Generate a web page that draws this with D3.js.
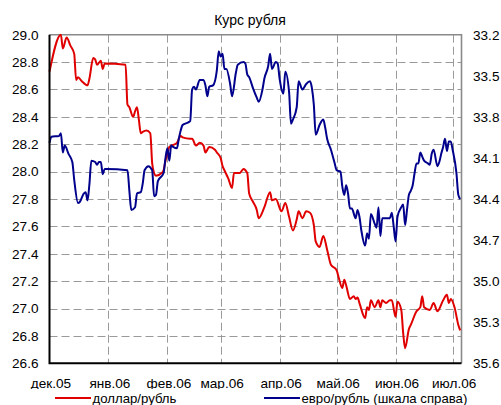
<!DOCTYPE html>
<html><head><meta charset="utf-8">
<script src="https://cdn.jsdelivr.net/npm/d3@7"></script>
<style>body{margin:0;background:#fff} svg{display:block}</style>
</head><body><svg id="c" width="501" height="405"></svg>
<script>
// ---- data ----
const startDate = new Date(2005, 11, 1);
const usdDays = [0,6,7,9,11,13,14,15,17,20,21,23,24,25,27,28,29,40,41,42,44,45,46,47,48,49,51,53,54,55,56,59,60,61,62,63,67,69,70,74,75,77,79,81,82,84,87,88,90,91,92,94,96,97,100,102,104,105,107,109,110,113,116,117,119,122,124,126,128,130,131,133,135,137,139,140,142,144,146,148,151,152,154,155,156,158,160,161,162,163,166,167,168,169,171,173,174,175,177,179,180,182,183,185,186,187,189,190,193,195,196,197,200,202,204,207,209,210,211,213,215,216];
const usdValues = [28.73,29.00,28.90,28.98,28.92,28.86,28.67,28.69,28.66,28.63,28.68,28.83,28.82,28.78,28.81,28.75,28.79,28.78,28.49,28.47,28.40,28.44,28.47,28.38,28.28,28.29,28.30,28.28,28.06,27.99,27.97,27.99,28.01,28.08,28.13,28.18,28.21,28.26,28.25,28.24,28.24,28.19,28.21,28.19,28.14,28.18,28.16,28.14,28.10,28.04,28.01,27.95,27.88,27.99,27.99,28.02,27.99,27.84,27.78,27.72,27.66,27.74,27.85,27.79,27.80,27.71,27.77,27.67,27.57,27.65,27.71,27.66,27.71,27.70,27.61,27.49,27.45,27.53,27.43,27.32,27.28,27.23,27.15,27.21,27.17,27.07,27.09,27.07,27.08,27.04,26.93,27.01,26.99,27.06,27.01,27.06,27.01,27.06,27.04,27.06,27.06,26.94,27.05,26.99,26.82,26.71,26.85,26.88,26.98,27.01,27.09,27.01,26.99,27.04,26.98,27.06,27.10,27.04,27.07,27.01,26.88,26.84];
const eurDays = [0,1,5,6,7,8,10,12,13,15,16,18,19,20,21,22,24,25,26,27,28,29,30,41,42,43,45,46,48,49,50,52,54,55,56,57,60,61,62,63,64,65,67,68,69,70,73,74,75,76,77,79,81,82,83,84,86,88,89,90,91,92,93,95,96,98,99,102,103,104,105,107,109,110,112,113,115,116,117,119,120,121,123,124,126,127,128,130,131,133,135,137,138,139,140,142,144,145,146,148,150,151,153,154,155,156,157,158,159,161,162,163,164,166,167,168,169,171,172,173,174,175,177,179,180,181,182,183,185,186,187,188,189,190,191,192,193,194,195,196,197,199,200,201,202,204,205,206,207,208,209,210,211,212,214,215,216];
const eurValues = [33.99,33.945,33.94,33.92,34.06,34.01,34.07,34.13,34.26,34.43,34.42,34.36,34.35,34.41,34.29,34.12,34.13,34.15,34.13,34.13,34.22,34.18,34.18,34.19,34.34,34.48,34.46,34.36,34.35,34.29,34.19,34.16,34.19,34.38,34.37,34.27,34.21,34.10,34.03,34.12,34.01,34.02,34.03,33.96,33.90,33.86,33.84,33.83,33.60,33.58,33.60,33.53,33.53,33.57,33.65,33.58,33.57,33.46,33.32,33.36,33.34,33.45,33.45,33.56,33.65,33.48,33.42,33.40,33.41,33.49,33.51,33.59,33.66,33.69,33.60,33.52,33.43,33.34,33.45,33.40,33.41,33.52,33.63,33.47,33.62,33.85,33.82,33.73,33.54,33.60,33.56,33.54,33.59,33.71,33.93,33.86,33.82,33.88,33.96,34.04,34.14,34.19,34.20,34.31,34.37,34.30,34.36,34.47,34.47,34.54,34.48,34.53,34.63,34.74,34.65,34.69,34.51,34.58,34.61,34.46,34.67,34.54,34.54,34.54,34.50,34.60,34.71,34.53,34.46,34.44,34.59,34.48,34.37,34.34,34.30,34.21,34.14,34.14,34.06,34.09,34.12,34.14,34.15,34.07,34.04,34.16,34.13,34.07,34.02,33.96,34.05,33.98,33.98,34.04,34.21,34.37,34.40];
const leftTicks = [26.6,26.8,27.0,27.2,27.4,27.6,27.8,28.0,28.2,28.4,28.6,28.8,29.0];
const rightTicks = [33.2,33.5,33.8,34.1,34.4,34.7,35.0,35.3,35.6];
const monthTicks = ["2005-12-01","2006-01-01","2006-02-01","2006-03-01","2006-04-01","2006-05-01","2006-06-01","2006-07-01"];
const monthNames = ["янв","фев","мар","апр","май","июн","июл","авг","сен","окт","ноя","дек"];
const chartTitle = "Курс рубля";
const seriesNames = ["доллар/рубль", "евро/рубль (шкала справа)"];
const seriesColors = ["#e00000", "#00008c"];

// ---- layout ----
const L = 49.5, R = 461.5, T = 34.7, B = 363.3;
const FONT = "'Liberation Sans', Arial, sans-serif";
const svg = d3.select("#c");
const parse = d3.timeParse("%Y-%m-%d");
const monthDates = monthTicks.map(parse);
const endDate = d3.timeHour.offset(new Date(2006, 6, 5), 16);

const x = d3.scaleTime().domain([startDate, endDate]).range([L, R]);
const yL = d3.scaleLinear().domain([26.6, 29.0]).range([B, T]);
const yR = d3.scaleLinear().domain([33.2, 35.6]).range([T, B]);

const usd = usdDays.map((d, i) => ({date: d3.timeDay.offset(startDate, d), v: usdValues[i]}));
const eur = eurDays.map((d, i) => ({date: d3.timeDay.offset(startDate, d), v: eurValues[i]}));

// gridlines
const grid = svg.append("g").attr("stroke", "#9a9a9a").attr("stroke-width", 1).attr("stroke-dasharray", "8,4");
grid.selectAll("line.h").data(leftTicks.slice(1, -1)).join("line")
  .attr("x1", L).attr("x2", R)
  .attr("y1", d => Math.round(yL(d)) + 0.5).attr("y2", d => Math.round(yL(d)) + 0.5);
grid.selectAll("line.v").data(monthDates.slice(1)).join("line")
  .attr("y1", T).attr("y2", B)
  .attr("x1", d => Math.round(x(d)) + 0.5).attr("x2", d => Math.round(x(d)) + 0.5);

// gray frame top & right
svg.append("path").attr("d", `M${L},${T}H${R}V${B}`).attr("fill", "none")
  .attr("stroke", "#8a8a8a").attr("stroke-width", 1.6);

// series
const lineL = d3.line().x(d => x(d.date)).y(d => yL(d.v)).curve(d3.curveMonotoneX);
const lineR = d3.line().x(d => x(d.date)).y(d => yR(d.v)).curve(d3.curveMonotoneX);
svg.append("path").datum(usd).attr("d", lineL).attr("fill", "none")
  .attr("stroke", seriesColors[0]).attr("stroke-width", 2).attr("stroke-linejoin", "round");
svg.append("path").datum(eur).attr("d", lineR).attr("fill", "none")
  .attr("stroke", seriesColors[1]).attr("stroke-width", 2).attr("stroke-linejoin", "round");

// black left & bottom axes lines
svg.append("path").attr("d", `M${L},${T}V${B}H${R}`).attr("fill", "none")
  .attr("stroke", "#000").attr("stroke-width", 2);

// axes labels
const fmt = d3.format(".1f");
const gl = svg.append("g").attr("transform", `translate(${L},0)`)
  .call(d3.axisLeft(yL).tickValues(leftTicks).tickSize(0).tickPadding(11).tickFormat(fmt));
const gr = svg.append("g").attr("transform", `translate(${R},0)`)
  .call(d3.axisRight(yR).tickValues(rightTicks).tickSize(0).tickPadding(11.5).tickFormat(fmt));
const gb = svg.append("g").attr("transform", `translate(0,${B})`)
  .call(d3.axisBottom(x).tickValues(monthDates).tickSize(0).tickPadding(15.5)
    .tickFormat(d => monthNames[d.getMonth()] + "." + d3.timeFormat("%y")(d)));
[gl, gr, gb].forEach(g => {
  g.select(".domain").remove();
  g.selectAll("text").attr("font-family", FONT).attr("font-size", 13.6).attr("fill", "#000");
});
gb.selectAll("text").attr("dx", 1);

// title
svg.append("text").attr("x", 250).attr("y", 25).attr("text-anchor", "middle")
  .attr("font-family", FONT).attr("font-size", 14).text(chartTitle);

// legend (white band covers label descenders)
svg.append("rect").attr("x", 0).attr("y", 389).attr("width", 501).attr("height", 16).attr("fill", "#fff");
const legendX = [55, 264];
const lg = svg.append("g");
seriesNames.forEach((name, i) => {
  lg.append("line").attr("x1", legendX[i]).attr("x2", legendX[i] + 36)
    .attr("y1", 398).attr("y2", 398).attr("stroke", seriesColors[i]).attr("stroke-width", 2);
  lg.append("text").attr("x", legendX[i] + 37.5).attr("y", 402.5)
    .attr("font-family", FONT).attr("font-size", 13.2).text(name);
});
</script></body></html>
